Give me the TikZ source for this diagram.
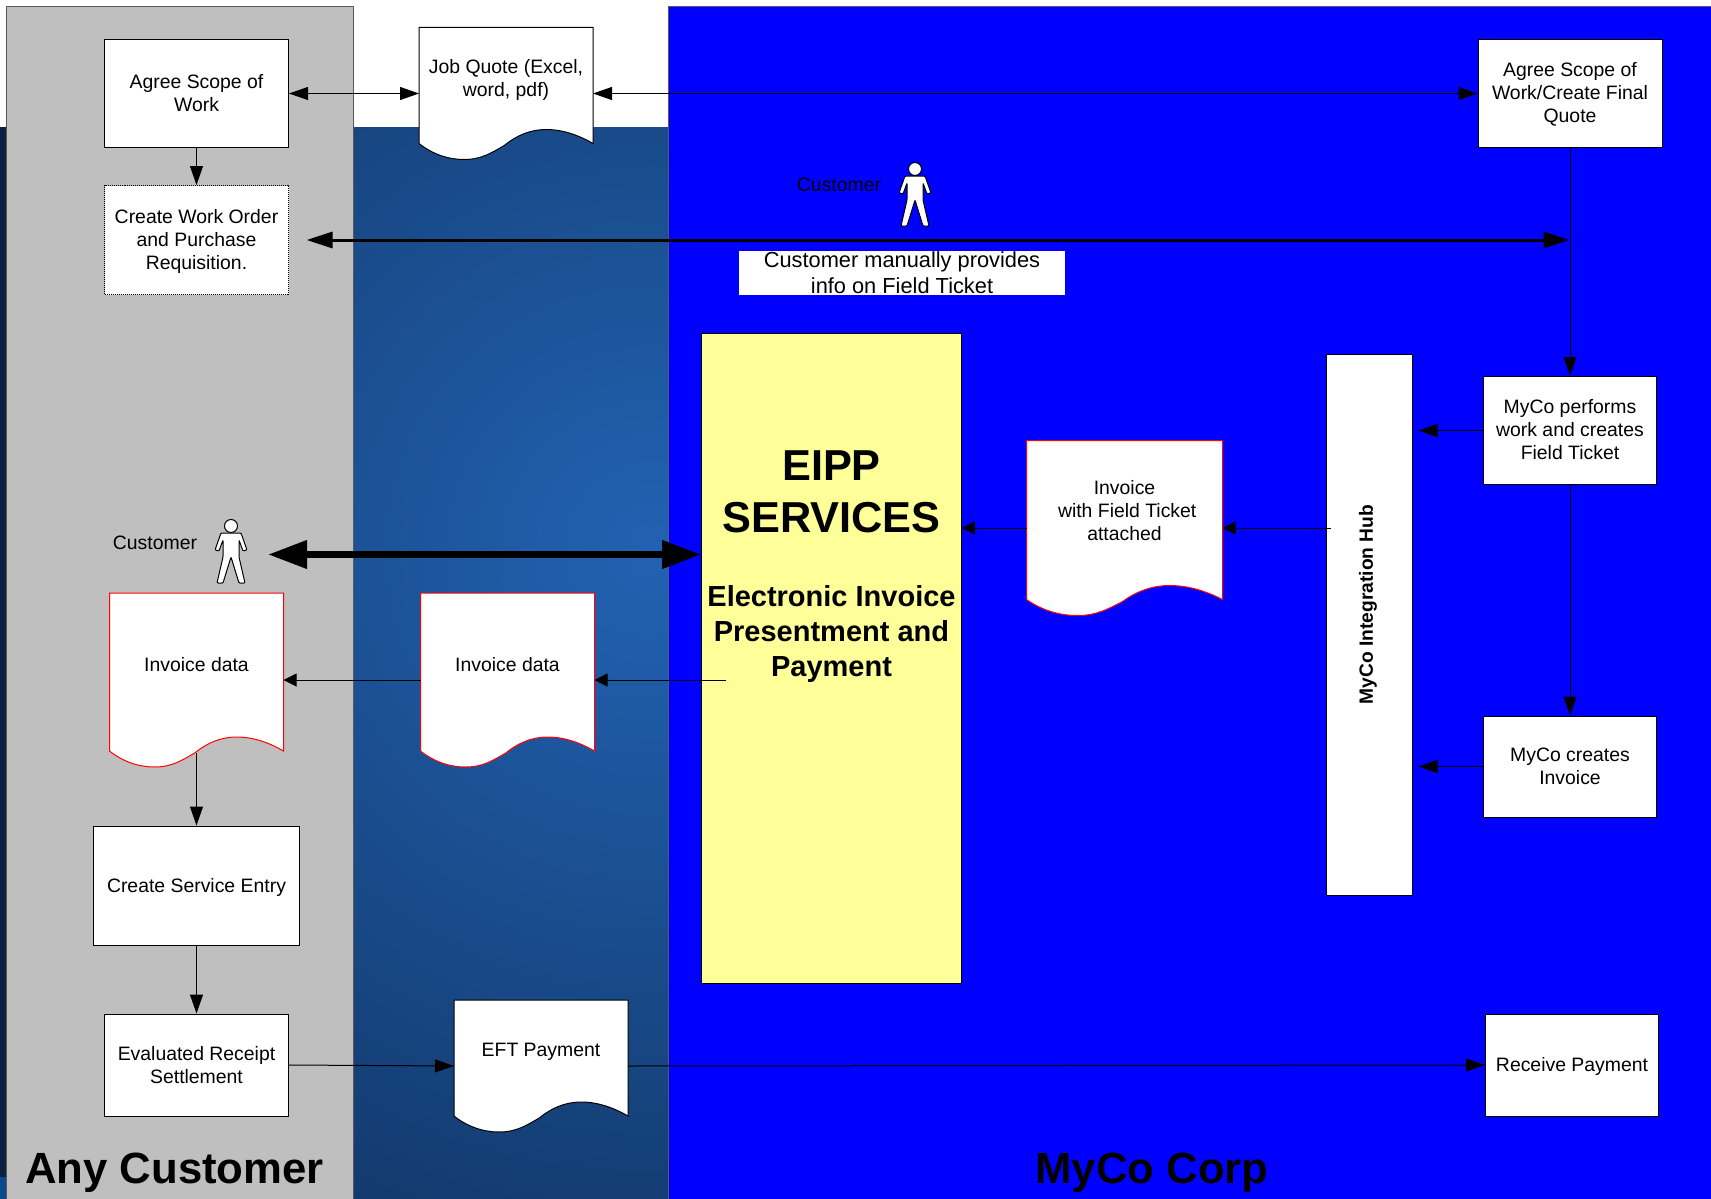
\documentclass[tikz,border=0pt]{standalone}
\usepackage{xcolor}
\usepackage{fontspec}
\setmainfont{Liberation Sans}
\usetikzlibrary{arrows.meta}
\definecolor{panelgrey}{HTML}{BFBFBF}
\definecolor{panelblue}{HTML}{0000FF}
\definecolor{bandlight}{HTML}{2262B2}
\definecolor{banddark}{HTML}{0C2A52}
\definecolor{stripdark}{HTML}{0C2240}
\definecolor{stripblue}{HTML}{0A4A8C}
\definecolor{eippyellow}{HTML}{FFFF99}
\newdimen\docl \newdimen\docb \newdimen\docr \newdimen\doct \newdimen\docw \newdimen\docs
\makeatletter
\pgfdeclareshape{wavedoc}{
    \inheritsavedanchors[from=rectangle]
    \inheritanchorborder[from=rectangle]
    \inheritanchor[from=rectangle]{center}
    \inheritanchor[from=rectangle]{north}
    \inheritanchor[from=rectangle]{south}
    \inheritanchor[from=rectangle]{east}
    \inheritanchor[from=rectangle]{west}
    \anchor{wave}{\southwest \pgf@ya=\pgf@y \southwest \docl=\pgf@x \northeast \advance\pgf@x by \docl \divide\pgf@x by 2 \pgf@y=\pgf@ya \advance\pgf@y by 14pt}
    \backgroundpath{
        \southwest \docl=\pgf@x \docb=\pgf@y
        \northeast \docr=\pgf@x \doct=\pgf@y
        \docw=\docr \advance\docw by -\docl
        \docs=\docb \advance\docs by 16pt
        \pgfpathmoveto{\pgfqpoint{\docl}{\doct}}
        \pgfpathlineto{\pgfqpoint{\docr}{\doct}}
        \pgfpathlineto{\pgfqpoint{\docr}{\docs}}
        \pgfpathcurveto{\pgfpoint{\docl+0.92\docw}{\docs+8pt}}{\pgfpoint{\docl+0.83\docw}{\docs+14pt}}{\pgfpoint{\docl+0.73\docw}{\docs+14pt}}
        \pgfpathcurveto{\pgfpoint{\docl+0.64\docw}{\docs+14pt}}{\pgfpoint{\docl+0.56\docw}{\docs+8pt}}{\pgfpoint{\docl+0.49\docw}{\docs-2pt}}
        \pgfpathcurveto{\pgfpoint{\docl+0.42\docw}{\docs-9pt}}{\pgfpoint{\docl+0.36\docw}{\docs-16pt}}{\pgfpoint{\docl+0.26\docw}{\docs-16pt}}
        \pgfpathcurveto{\pgfpoint{\docl+0.17\docw}{\docs-16pt}}{\pgfpoint{\docl+0.08\docw}{\docs-11pt}}{\pgfqpoint{\docl}{\docs}}
        \pgfpathclose
    }
}
\makeatother
\tikzset{
    procbox/.style={draw=black, fill=white, line width=1pt, inner sep=0pt, align=center, font=\fontsize{19.4}{23}\selectfont},
    docbox/.style={wavedoc, draw=black, fill=white, line width=1pt, inner sep=0pt, align=center, font=\fontsize{19.4}{23}\selectfont, minimum width=173pt},
    reddoc/.style={docbox, draw=red},
    plainlabel/.style={inner sep=0pt, align=center, font=\fontsize{19.4}{23}\selectfont},
    titlelabel/.style={inner sep=0pt, font=\fontsize{43.7}{50}\selectfont\bfseries},
    flow/.style={-{Triangle[length=19pt,width=13pt]}, line width=1pt},
    smallflow/.style={-{Triangle[length=13pt,width=13pt]}, line width=1pt},
    customerfig/.pic={
        \draw[fill=white, line width=1pt, rounded corners=1pt] (-10,14) -- (10,14) -- (16,31) -- (12,32) -- (8,21) -- (8,38) -- (14,64) -- (8,64) -- (0,38) -- (-8,64) -- (-14,64) -- (-8,38) -- (-8,21) -- (-12,32) -- (-16,31) -- cycle;
        \draw[fill=white, line width=1pt] (0,7) circle (6.5pt);
    }
}

\begin{document}
\begin{tikzpicture}[x=1pt,y=-1pt]
    \useasboundingbox (0,0) rectangle (1711,1199);
    \fill[white] (0,0) rectangle (1711,1199);
    % backdrop
    \begin{scope}
        \clip (0,127) rectangle (1711,1199);
        \shade[inner color=bandlight, outer color=banddark] (650,550) circle (1000pt);
    \end{scope}
    \fill[stripdark] (0,127) rectangle (7,1177);
    \fill[stripblue] (0,1177) rectangle (7,1199);
    \draw[fill=panelgrey, draw=black!65] (6.5,6.5) rectangle (353.5,1205);
    \draw[fill=panelblue, draw=black!65] (668.5,6.5) rectangle (1715,1205);

    % customer side
    \node[procbox, minimum width=184pt, minimum height=108pt] (scope) at (196.5,93.5) {Agree Scope of\\Work};
    \node[procbox, densely dotted, minimum width=184pt, minimum height=109pt, text depth=2pt] (order) at (196.5,240) {Create Work Order\\and Purchase\\Requisition.};
    \node[reddoc, minimum height=173pt, text depth=31pt] (invleft) at (196.5,680) {Invoice data};
    \node[procbox, minimum width=206pt, minimum height=119pt, text depth=1pt] (entry) at (196.5,885.5) {Create Service Entry};
    \node[procbox, minimum width=184pt, minimum height=102pt] (settle) at (196.5,1065) {Evaluated Receipt\\Settlement};
    \node[plainlabel] (custleft) at (155,542.5) {Customer};
    \pic at (231,519) {customerfig};
    \coordinate (thickleft) at (268,554.5);

    % documents in the middle
    \node[docbox, minimum height=131pt, text depth=31pt] (quote) at (506,93.5) {Job Quote (Excel,\\word, pdf)};
    \node[reddoc, minimum height=173pt, text depth=31pt] (invmid) at (507.5,680) {Invoice data};
    \node[docbox, minimum height=131pt, text depth=33pt] (eft) at (541,1066) {EFT Payment};

    % MyCo side
    \node[procbox, minimum width=184pt, minimum height=108pt, text depth=2pt] (finalq) at (1570,93.5) {Agree Scope of\\Work/Create Final\\Quote};
    \node[plainlabel] (custtop) at (839,184.5) {Customer};
    \pic at (915,162) {customerfig};
    \node[fill=white, minimum width=326pt, minimum height=44pt, inner sep=0pt, font=\fontsize{21.8}{26}\selectfont, align=center] (manual) at (902,272.5) {Customer manually provides\\info on Field Ticket};
    \node[draw=black, fill=eippyellow, line width=0.8pt, minimum width=260pt, minimum height=650pt] (eipp) at (831.5,658) {};
    \node[inner sep=0pt, align=center, font=\fontsize{43.3}{52}\selectfont\bfseries] (eipptitle) at (831.5,492) {EIPP\\SERVICES};
    \node[inner sep=0pt, align=center, font=\fontsize{29}{35}\selectfont\bfseries] (eippsub) at (831.5,634) {Electronic Invoice\\Presentment and\\Payment};
    \node[reddoc, minimum width=195pt, minimum height=174pt, text depth=36pt] (invfield) at (1124.5,528) {Invoice\\~with Field Ticket\\attached};
    \node[draw=black, fill=white, line width=0.8pt, inner sep=0pt, minimum width=86pt, minimum height=541pt] (hub) at (1369,625) {};
    \node[inner sep=0pt, rotate=90, font=\fontsize{19.2}{23}\selectfont\bfseries] (hubtext) at (1368,604.5) {MyCo Integration Hub};
    \node[procbox, minimum width=173pt, minimum height=108pt, text depth=3pt] (work) at (1570,430.5) {MyCo performs\\work and creates\\Field Ticket};
    \node[procbox, minimum width=173pt, minimum height=101pt] (invoice) at (1570,766.5) {MyCo creates\\Invoice};
    \node[procbox, minimum width=173pt, minimum height=102pt, text depth=2pt] (receive) at (1572,1065) {Receive Payment};

    % titles
    \node[titlelabel] (anycust) at (174.5,1172.5) {Any Customer};
    \node[titlelabel] (myco) at (1152,1172.5) {MyCo Corp};

    % free ends
    \coordinate (eippout) at (725.5,680);
    \coordinate (hubout) at (1331,528);
    \coordinate (hubinw) at (1418.5,430.5);
    \coordinate (hubini) at (1418.5,766.5);
    \coordinate (thinjoin) at (1569.5,240);
    \coordinate (thickstart) at (306.5,240);

    % connectors
    \draw[flow, {Triangle[length=19pt,width=13pt]}-{Triangle[length=19pt,width=13pt]}] (scope.east) -- (quote.west);
    \draw[flow, {Triangle[length=19pt,width=13pt]}-{Triangle[length=19pt,width=13pt]}] (quote.east) -- (finalq.west);
    \draw[flow] (scope) -- (order);
    \draw[flow] (finalq) -- (work);
    \draw[flow] (work) -- (invoice);
    \draw[{Triangle[length=26pt,width=16pt]}-{Triangle[length=26pt,width=16pt]}, line width=3pt] (thickstart) -- (thinjoin);
    \draw[{Triangle[length=39pt,width=27pt]}-{Triangle[length=39pt,width=27pt]}, line width=7pt] (thickleft) -- (eipp.west |- thickleft);
    \draw[smallflow] (eippout) -- (invmid.east);
    \draw[smallflow] (invmid.west) -- (invleft.east);
    \draw[flow] (invleft.wave) -- (entry.north);
    \draw[flow] (entry) -- (settle);
    \draw[flow] (settle.east) -- (eft.west);
    \draw[flow] (eft.east) -- (receive.west);
    \draw[smallflow] (hubout) -- (invfield.east);
    \draw[smallflow] (invfield.west) -- (eipp.east |- invfield.west);
    \draw[flow] (work.west) -- (hubinw);
    \draw[flow] (invoice.west) -- (hubini);
\end{tikzpicture}
\end{document}
